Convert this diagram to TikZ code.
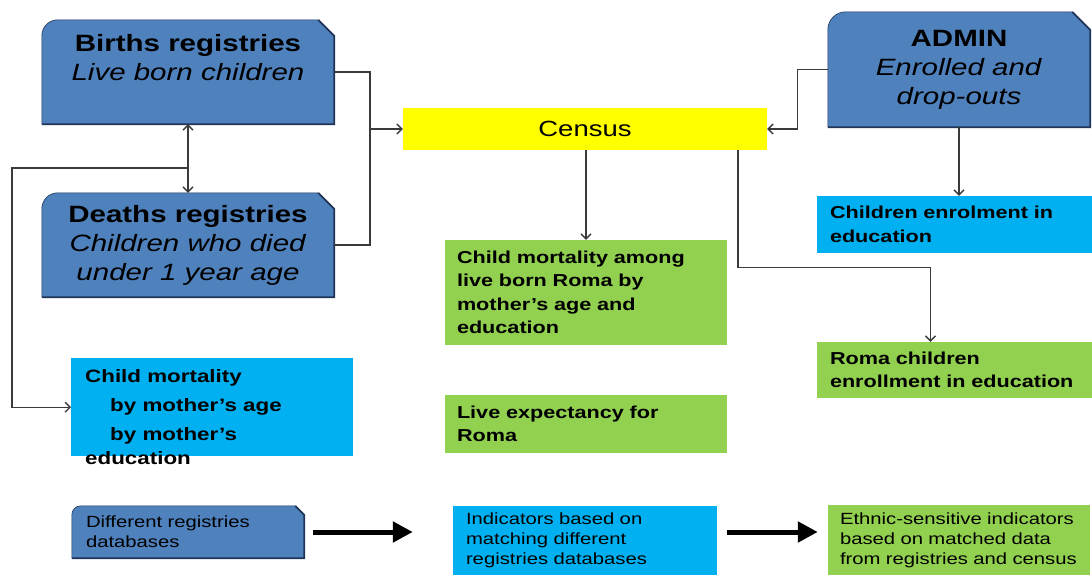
\documentclass[tikz,border=0pt]{standalone}
\usepackage{fontspec}
\setmainfont{Liberation Sans}[FakeStretch=1.25]
\usetikzlibrary{arrows.meta,positioning,backgrounds}

\definecolor{regblue}{HTML}{4F81BD}
\definecolor{regline}{HTML}{1F3456}
\definecolor{skyblue}{HTML}{00B0F0}
\definecolor{leafgreen}{HTML}{92D050}
\definecolor{censusyellow}{HTML}{FFFF00}
\definecolor{wiregray}{HTML}{3A3A3A}

% registry box: round top left, snipped top right
\newcommand{\regshape}[2]{%
  \fill[regblue] (#1.south west) -- ([yshift=-#2]#1.north west)
    arc[start angle=180, end angle=90, radius=#2] -- ([xshift=-#2]#1.north east)
    -- ([yshift=-#2]#1.north east) -- (#1.south east) -- cycle;
  \draw[regline, line width=0.6pt] (#1.south west) -- ([yshift=-#2]#1.north west)
    arc[start angle=180, end angle=90, radius=#2] -- ([xshift=-#2]#1.north east);
  \draw[regline, line width=1.8pt] (#1.south west) -- (#1.south east)
    -- ([yshift=-#2]#1.north east) -- ([xshift=-#2]#1.north east);
}

\begin{document}
\begin{tikzpicture}[
    x=1pt, y=1pt,
    >={Straight Barb[length=5pt,width=10pt]},
    regbox/.style={minimum width=292pt, minimum height=104pt, align=center,
        font=\fontsize{23.6pt}{29pt}\selectfont},
    greenbox/.style={fill=leafgreen, align=left, inner ysep=0pt,
        font=\bfseries\fontsize{17.3pt}{23.5pt}\selectfont},
    bluebox/.style={greenbox, fill=skyblue},
    lowbox/.style={align=left, inner ysep=0pt,
        font=\fontsize{16.2pt}{20pt}\selectfont},
    wire/.style={draw=wiregray, line width=1.3pt},
    arrow/.style={wire, ->},
    bigarrow/.style={-{Triangle[length=20pt,width=20pt]}, line width=5pt}
]
\useasboundingbox (0,0) rectangle (1092,-576);

% Registries
\node[regbox] (births) at (188,-72)
    {\textbf{Births registries}\\ \textit{Live born children}\\ ~};
\node[regbox] (deaths) at (188,-245)
    {\textbf{Deaths registries}\\ \textit{Children who died}\\ \textit{under 1 year age}};
\node[regbox, minimum width=262pt, minimum height=115pt] (admin) at (959,-69.5)
    {\textbf{ADMIN}\\ \textit{Enrolled and}\\ \textit{drop-outs}};

% Census
\node[fill=censusyellow, minimum width=364pt, minimum height=42pt,
    font=\fontsize{22pt}{26pt}\selectfont] (census) at (585,-129) {Census};

% Indicators
\node[greenbox, text width=258pt, inner xsep=12pt, minimum height=105pt] (rmort) at (586,-292.5)
    {Child mortality among\\ live born Roma by\\ mother’s age and\\ education};
\node[greenbox, text width=258pt, inner xsep=12pt, minimum height=58pt] (life) at (586,-424)
    {Live expectancy for\\ Roma};
\node[bluebox, text width=249pt, inner xsep=13pt, minimum height=57pt] (enrol) at (954.5,-224.5)
    {Children enrolment in\\ education};
\node[greenbox, text width=249pt, inner xsep=13pt, minimum height=56pt] (renrol) at (954.5,-370)
    {Roma children\\ enrollment in education};
\node[fill=skyblue, inner xsep=14pt, inner ysep=0pt, anchor=north west,
    font=\bfseries\fontsize{17.9pt}{29pt}\selectfont] (cmort) at (71,-358)
    {\begin{minipage}[t][98pt][t]{254pt}\rule{0pt}{24pt}Child mortality\\
     \hspace*{25pt}by mother’s age\\ \hspace*{25pt}by mother’s\\[-5pt] education\end{minipage}};

% Legend row
\node[lowbox, text width=204pt, inner xsep=14pt, minimum height=52pt] (dbs) at (188,-532)
    {Different registries\\ databases};
\node[lowbox, fill=skyblue, text width=238pt, inner xsep=13pt, minimum height=69pt] (indic) at (585,-540.5)
    {Indicators based on\\ matching different\\ registries databases};
\node[lowbox, fill=leafgreen, text width=238pt, inner xsep=12pt, minimum height=70pt] (ethnic) at (959,-540)
    {Ethnic-sensitive indicators\\ based on matched data\\ from registries and census};

\begin{pgfonlayer}{background}
  \fill[white] (0,0) rectangle (1092,-576);
  \regshape{births}{16pt}
  \regshape{deaths}{16pt}
  \regshape{admin}{18pt}
  \regshape{dbs}{9pt}
\end{pgfonlayer}

% Registries into census
\coordinate (jl) at (370,-129);
\draw[wire] (births.east) -- (births.east -| jl) -- (deaths.east -| jl) -- (deaths.east);
\draw[arrow] (jl) -- (census.west);
\draw[arrow, <->] (births) -- (deaths);
\coordinate (jb) at (188,-168);
\draw[arrow] (jb) -- ++(-176,0) |- (cmort.west);

% Census outputs
\draw[arrow] (census.south -| rmort.north) -- (rmort.north);
\draw[arrow] ([xshift=153pt]census.south) -- ++(0,-117) -| ([xshift=-24pt]renrol.north);

% Admin
\draw[arrow] (admin.west) -- ++(-30,0) |- (census.east);
\draw[arrow] (admin.south) -- (admin.south |- enrol.north);

% Legend arrows
\draw[bigarrow, shorten <=9pt, shorten >=40pt] (dbs.east) -- (dbs.east -| indic.west);
\draw[bigarrow, shorten <=10pt, shorten >=10pt] (dbs.east -| indic.east) -- (dbs.east -| ethnic.west);

\end{tikzpicture}
\end{document}
